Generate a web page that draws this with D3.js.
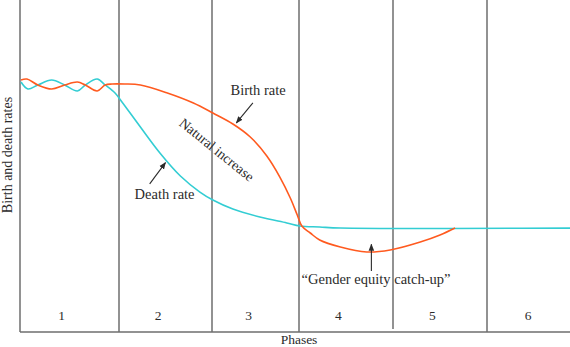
<!DOCTYPE html>
<html>
<head>
<meta charset="utf-8">
<script src="https://cdn.jsdelivr.net/npm/d3@7"></script>
<style>
  html, body { margin: 0; padding: 0; background: #fff; }
  svg { display: block; }
  text { font-family: "Liberation Serif", "Times New Roman", serif; fill: #2b2b2b; }
</style>
</head>
<body>
<svg id="chart" width="570" height="347"></svg>
<script>
// ---- Data (x in phase units, y in rate units) ----
const phases = ["1", "2", "3", "4", "5", "6"];
const phaseBoundaries = [0, 1, 2, 3, 4, 5, 6];

const birthX = [0.01, 0.07, 0.18, 0.32, 0.45, 0.58, 0.66, 0.78, 0.86, 0.93, 1.06, 1.23, 1.52, 1.80, 2.01, 2.24, 2.44, 2.63, 2.78, 2.90, 2.98, 3.03, 3.12, 3.22, 3.44, 3.72, 3.97, 4.29, 4.50, 4.66];
const birthY = [37.95, 38.10, 37.20, 36.60, 37.20, 37.65, 37.20, 36.30, 37.20, 37.35, 37.35, 37.20, 36.00, 34.49, 32.98, 31.33, 29.37, 26.51, 23.34, 20.18, 17.62, 15.96, 14.91, 13.86, 12.80, 12.05, 12.35, 13.55, 14.61, 15.66];

const deathX = [0.01, 0.08, 0.18, 0.32, 0.45, 0.58, 0.66, 0.78, 0.86, 0.96, 1.04, 1.23, 1.44, 1.66, 1.87, 2.01, 2.24, 2.55, 2.86, 3.01, 3.22, 3.44, 6.0];
const deathY = [37.65, 36.60, 37.20, 37.95, 37.20, 36.30, 37.20, 38.10, 37.20, 35.99, 34.49, 30.87, 26.96, 23.49, 21.08, 19.88, 18.52, 17.32, 16.42, 15.96, 15.81, 15.66, 15.66];

// ---- Layout ----
const svg = d3.select("#chart");
const plotTop = 0, plotBottom = 332;
const x = d3.scaleLinear().domain(phaseBoundaries).range([20, 119, 212, 299, 393, 487, 585]);
const y = d3.scaleLinear().domain([0, 50]).range([plotBottom, plotTop]);

const gridColor = "#6e6e6e";

// vertical phase dividers
svg.append("g").selectAll("line")
  .data(phaseBoundaries.slice(1, 6))
  .join("line")
  .attr("x1", d => x(d)).attr("x2", d => x(d))
  .attr("y1", plotTop)
  .attr("y2", d => d === 4 ? plotBottom - 3 : plotBottom)
  .attr("stroke", gridColor).attr("stroke-width", 1.5);

// left and bottom frame
svg.append("line").attr("x1", x(0)).attr("x2", x(0)).attr("y1", plotTop).attr("y2", plotBottom)
  .attr("stroke", gridColor).attr("stroke-width", 1.5);
svg.append("line").attr("x1", x(0)).attr("x2", x(6)).attr("y1", plotBottom).attr("y2", plotBottom)
  .attr("stroke", gridColor).attr("stroke-width", 1.5);

// lines
const line = d3.line().x(d => x(d[0])).y(d => y(d[1])).curve(d3.curveCatmullRom.alpha(0.5));
const birth = birthX.map((v, i) => [v, birthY[i]]);
const death = deathX.map((v, i) => [v, deathY[i]]);

svg.append("path").datum(death).attr("d", line)
  .attr("fill", "none").attr("stroke", "#33CDD3").attr("stroke-width", 1.6);
svg.append("path").datum(birth).attr("d", line)
  .attr("fill", "none").attr("stroke", "#FF5A1F").attr("stroke-width", 1.6);

// phase labels
svg.append("g").selectAll("text")
  .data(phases)
  .join("text")
  .attr("x", (d, i) => x(i + 0.42))
  .attr("y", 320)
  .attr("text-anchor", "middle")
  .attr("font-size", 13.5)
  .text(d => d);

// axis titles
svg.append("text").attr("x", x(3)).attr("y", 344).attr("text-anchor", "middle")
  .attr("font-size", 13.5).text("Phases");
svg.append("text").attr("transform", `translate(12,155) rotate(-90)`)
  .attr("text-anchor", "middle").attr("font-size", 14).text("Birth and death rates");

// arrow marker
const defs = svg.append("defs");
defs.append("marker").attr("id", "arr").attr("viewBox", "0 0 10 10")
  .attr("refX", 9).attr("refY", 5).attr("markerWidth", 7).attr("markerHeight", 7)
  .attr("orient", "auto-start-reverse").attr("markerUnits", "userSpaceOnUse")
  .append("path").attr("d", "M0,1 L10,5 L0,9 z").attr("fill", "#2b2b2b");

function arrow(x1, y1, x2, y2) {
  svg.append("line").attr("x1", x(x1)).attr("y1", y(y1)).attr("x2", x(x2)).attr("y2", y(y2))
    .attr("stroke", "#2b2b2b").attr("stroke-width", 1.1).attr("marker-end", "url(#arr)");
}

// annotations
svg.append("text").attr("x", x(2.53)).attr("y", y(35.7)).attr("text-anchor", "middle")
  .attr("font-size", 14.5).text("Birth rate");
arrow(2.47, 34.5, 2.28, 31.5);

svg.append("text").attr("x", x(1.49)).attr("y", y(20.1)).attr("text-anchor", "middle")
  .attr("font-size", 14.5).text("Death rate");
arrow(1.33, 22.3, 1.50, 25.5);

svg.append("text")
  .attr("transform", `translate(${x(2.02)},${y(26.9)}) rotate(39)`)
  .attr("text-anchor", "middle").attr("font-size", 14).text("Natural increase");

svg.append("text").attr("x", x(3.82)).attr("y", y(7.3)).attr("text-anchor", "middle")
  .attr("font-size", 14.5).text("\u201CGender equity catch-up\u201D");
arrow(3.77, 9.2, 3.77, 13.2);
</script>
</body>
</html>
